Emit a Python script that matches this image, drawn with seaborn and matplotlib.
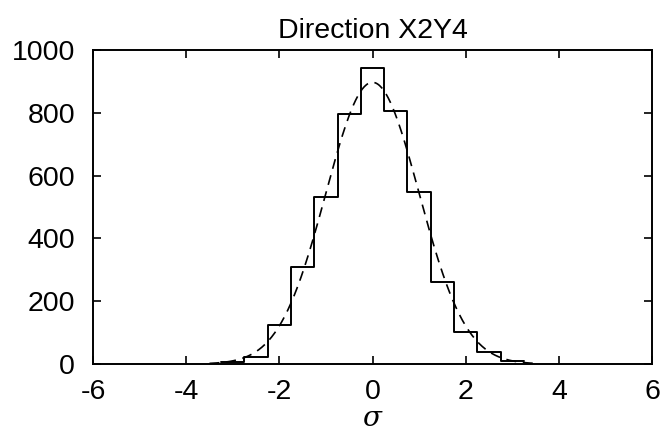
import numpy as np
import pandas as pd
import matplotlib
matplotlib.use("Agg")
import matplotlib.pyplot as plt
import seaborn as sns

# Histogram data (bin centres in sigma units, counts)
bin_centers = [-3.0, -2.5, -2.0, -1.5, -1.0, -0.5, 0.0, 0.5, 1.0, 1.5, 2.0, 2.5, 3.0]
counts = [5, 23, 124, 310, 531, 797, 942, 806, 548, 261, 103, 39, 10]
bin_width = 0.5

# Gaussian fit parameters (dashed curve)
fit_mean = 0.0
fit_sigma = 1.0
fit_amplitude = 897.0

title = "Direction X2Y4"
x_ticks = [-6, -4, -2, 0, 2, 4, 6]
y_ticks = [0, 200, 400, 600, 800, 1000]

sns.set_style("ticks")
plt.rcParams['font.family'] = ['Liberation Sans', 'DejaVu Sans']
plt.rcParams['mathtext.fontset'] = 'dejavuserif'
plt.rcParams['text.color'] = 'black'
plt.rcParams['axes.labelcolor'] = 'black'

fig = plt.figure(figsize=(6.61, 4.33), dpi=100)
ax = fig.add_axes([93/661, 1 - 364/433, (652 - 93)/661, (364 - 50)/433])

df = pd.DataFrame({"x": bin_centers, "w": counts})
sns.histplot(data=df, x="x", weights="w", binwidth=bin_width,
             binrange=(bin_centers[0] - bin_width/2, bin_centers[-1] + bin_width/2),
             element="step", fill=False, color="black", linewidth=1.4, ax=ax)

xc = np.linspace(-3.5, 3.5, 300)
yc = fit_amplitude * np.exp(-0.5 * ((xc - fit_mean) / fit_sigma) ** 2)
sns.lineplot(x=xc, y=yc, color="black", linewidth=1.2, ax=ax)
ax.lines[-1].set_dashes([6, 4])

ax.set_xlim(-6, 6)
ax.set_ylim(0, 1000)
ax.set_xticks(x_ticks)
ax.set_yticks(y_ticks)
ax.set_xticklabels([str(t) for t in x_ticks])
ax.set_yticklabels([str(t) for t in y_ticks])
ax.tick_params(direction="in", length=6, width=1.2, labelsize=20.5, colors="black",
               top=True, right=True)
ax.tick_params(axis="y", pad=13)
ax.tick_params(axis="x", pad=11)
for s in ax.spines.values():
    s.set_visible(True)
    s.set_linewidth(1.4)
    s.set_color("black")

ax.set_title(title, fontsize=20.5, pad=9, color="black")
ax.set_xlabel(r"$\sigma$", fontsize=20, color="black")
ax.xaxis.label.set_va("baseline")
ax.xaxis.set_label_coords(0.5, -(426 - 364) / 314)
ax.set_ylabel("")

fig.savefig("out.png", dpi=100, facecolor="white")
